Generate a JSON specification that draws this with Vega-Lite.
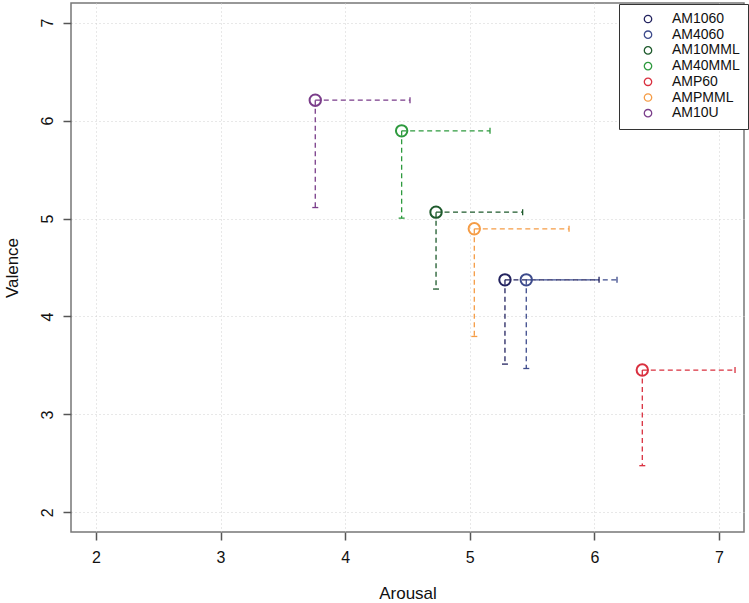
{
  "$schema": "https://vega.github.io/schema/vega-lite/v6.json",
  "width": 673,
  "height": 529,
  "autosize": {"type": "none"},
  "padding": {"left": 71, "top": 3, "right": 5, "bottom": 71},
  "background": "white",
  "data": {
    "values": [
      {"group": "AM1060", "x": 5.282, "y": 4.374, "xend": 6.037, "yend": 3.514},
      {"group": "AM4060", "x": 5.453, "y": 4.374, "xend": 6.181, "yend": 3.469},
      {"group": "AM10MML", "x": 4.729, "y": 5.065, "xend": 5.424, "yend": 4.28},
      {"group": "AM40MML", "x": 4.453, "y": 5.895, "xend": 5.162, "yend": 5.004},
      {"group": "AMP60", "x": 6.384, "y": 3.453, "xend": 7.128, "yend": 2.477},
      {"group": "AMPMML", "x": 5.036, "y": 4.895, "xend": 5.796, "yend": 3.796},
      {"group": "AM10U", "x": 3.76, "y": 6.208, "xend": 4.52, "yend": 5.112}
    ]
  },
  "config": {
    "view": {"stroke": "#777777", "strokeWidth": 1.5},
    "font": "Liberation Sans",
    "axis": {
      "gridColor": "#d0d0d0",
      "gridDash": [1, 3],
      "gridWidth": 1,
      "domain": false,
      "tickColor": "#555555",
      "tickSize": 8,
      "tickWidth": 1.5,
      "labelColor": "#111111",
      "labelFontSize": 16,
      "labelFont": "Liberation Sans",
      "titleFont": "Liberation Sans",
      "titleFontSize": 17,
      "titleFontWeight": "normal",
      "titleColor": "#111111"
    }
  },
  "encoding": {
    "color": {
      "field": "group",
      "type": "nominal",
      "scale": {
        "domain": ["AM1060", "AM4060", "AM10MML", "AM40MML", "AMP60", "AMPMML", "AM10U"],
        "range": ["#23235f", "#3d4b8c", "#1e5a2c", "#2e9a3e", "#d9303f", "#f59c45", "#7a3d8a"]
      },
      "legend": {
        "title": null,
        "orient": "none",
        "legendX": 548,
        "legendY": 1,
        "direction": "vertical",
        "symbolType": "circle",
        "symbolSize": 55,
        "symbolStrokeWidth": 1.3,
        "symbolOffset": 14,
        "labelFontSize": 14,
        "labelFont": "Liberation Sans",
        "labelColor": "#111111",
        "labelOffset": 17,
        "rowPadding": 1.7,
        "padding": 8,
        "strokeColor": "#333333",
        "fillColor": "white",
        "offset": 0
      }
    }
  },
  "layer": [
    {
      "mark": {"type": "rule", "strokeDash": [5, 3.5], "strokeWidth": 1.3},
      "encoding": {
        "x": {
          "field": "x", "type": "quantitative",
          "scale": {"domain": [1.8, 7.2], "nice": false, "zero": false},
          "axis": {"values": [2, 3, 4, 5, 6, 7], "format": "d", "title": "Arousal", "labelPadding": 9, "titlePadding": 20}
        },
        "x2": {"field": "xend"},
        "y": {
          "field": "y", "type": "quantitative",
          "scale": {"domain": [1.8, 7.2], "nice": false, "zero": false},
          "axis": {"values": [2, 3, 4, 5, 6, 7], "format": "d", "title": "Valence", "labelAngle": -90, "labelAlign": "center", "labelBaseline": "bottom", "labelPadding": 8, "titlePadding": 18}
        }
      }
    },
    {
      "mark": {"type": "rule", "strokeDash": [5, 3.5], "strokeWidth": 1.3},
      "encoding": {
        "x": {"field": "x", "type": "quantitative"},
        "y": {"field": "y", "type": "quantitative"},
        "y2": {"field": "yend"}
      }
    },
    {
      "mark": {"type": "point", "shape": "M0,-1V1", "filled": false, "size": 36, "strokeWidth": 1.3, "opacity": 1},
      "encoding": {
        "x": {"field": "xend", "type": "quantitative"},
        "y": {"field": "y", "type": "quantitative"}
      }
    },
    {
      "mark": {"type": "point", "shape": "M-1,0H1", "filled": false, "size": 36, "strokeWidth": 1.3, "opacity": 1},
      "encoding": {
        "x": {"field": "x", "type": "quantitative"},
        "y": {"field": "yend", "type": "quantitative"}
      }
    },
    {
      "mark": {"type": "point", "shape": "circle", "filled": false, "size": 130, "strokeWidth": 2, "opacity": 1},
      "encoding": {
        "x": {"field": "x", "type": "quantitative"},
        "y": {"field": "y", "type": "quantitative"}
      }
    }
  ]
}
